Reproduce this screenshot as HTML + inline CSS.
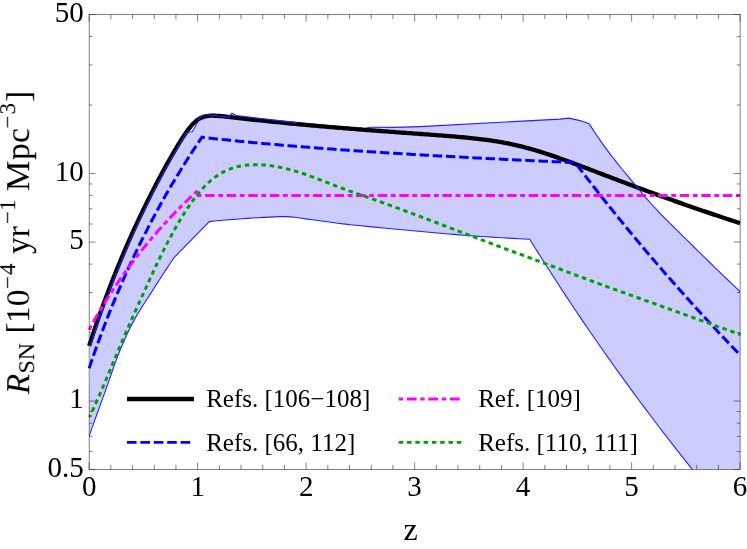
<!DOCTYPE html>
<html><head><meta charset="utf-8"><title>R_SN vs z</title>
<style>
html,body{margin:0;padding:0;background:#fff;}
svg{display:block;font-family:"Liberation Serif",serif;}
.tk{font-size:29px;fill:#000;}
.lg{font-size:25px;fill:#000;}
.ax{font-size:32px;fill:#000;}
</style></head><body>
<svg width="747" height="549" viewBox="0 0 747 549">
<rect width="747" height="549" fill="#fff"/>
<defs><filter id="nf" x="-5%" y="-5%" width="110%" height="110%"><feOffset dx="0" dy="0"/></filter><clipPath id="cp"><rect x="89.15" y="14.5" width="650.95" height="455.1"/></clipPath></defs>
<g clip-path="url(#cp)">
<path d="M90.15 346.25 L92.38 339.42 L94.60 332.74 L96.83 326.18 L99.05 319.75 L101.28 313.44 L103.50 307.25 L105.73 301.17 L107.95 295.19 L110.18 289.32 L112.40 283.55 L114.63 277.88 L116.86 272.31 L119.08 266.82 L121.31 261.42 L123.53 256.11 L125.76 250.88 L127.98 245.73 L130.21 240.66 L132.43 235.66 L134.66 230.74 L136.88 225.89 L139.11 221.10 L141.34 216.39 L143.56 211.74 L145.79 207.15 L148.01 202.63 L150.24 198.16 L152.46 193.76 L154.69 189.41 L156.91 185.11 L159.14 180.88 L161.37 176.69 L163.59 172.56 L165.82 168.49 L168.04 164.46 L170.27 160.49 L172.49 156.58 L174.72 152.73 L176.94 148.95 L186.90 132.10 L192.30 131.70 L201.20 115.70 L209.40 114.30 L210.10 115.00 L228.60 117.10 L232.00 113.30 L236.00 115.45 L242.79 116.31 L249.58 117.15 L256.37 117.98 L263.16 118.80 L269.95 119.59 L276.74 120.37 L283.53 121.14 L290.32 121.89 L297.11 122.63 L303.89 123.35 L310.68 124.06 L317.47 124.74 L324.26 125.33 L331.05 125.91 L337.84 126.48 L344.63 127.04 L351.42 127.58 L358.21 128.12 L365.00 128.65 L370.40 127.30 L395.00 127.40 L420.00 126.60 L560.00 119.10 L569.00 118.10 L580.00 120.60 L589.10 123.70 L592.98 129.65 L596.85 135.47 L600.73 141.15 L604.61 146.65 L608.48 151.93 L612.36 157.01 L616.24 161.95 L620.12 166.76 L623.99 171.48 L627.87 176.15 L631.75 180.79 L635.62 185.44 L639.50 190.12 L643.38 194.87 L647.25 199.45 L651.13 203.75 L655.01 207.93 L658.88 212.01 L662.76 216.01 L666.64 219.94 L670.52 223.82 L674.39 227.66 L678.27 231.47 L682.15 235.27 L686.02 239.08 L689.90 242.91 L693.78 246.76 L697.65 250.59 L701.53 254.41 L705.41 258.22 L709.28 262.01 L713.16 265.79 L717.04 269.55 L720.92 273.30 L724.79 277.03 L728.67 280.75 L732.55 284.45 L736.42 288.13 L740.30 291.80 L740.30 469.60 L692.50 469.60 L688.33 464.38 L684.15 459.13 L679.98 453.85 L675.80 448.54 L671.63 443.20 L667.45 437.82 L663.28 432.41 L659.11 426.97 L654.93 421.49 L650.76 415.98 L646.58 410.44 L642.41 404.86 L638.23 399.24 L634.06 393.59 L629.88 387.91 L625.71 382.18 L621.54 376.42 L617.36 370.63 L613.19 364.79 L609.01 358.92 L604.84 353.00 L600.66 347.05 L596.49 341.05 L592.32 335.02 L588.14 328.94 L583.97 322.83 L579.79 316.67 L575.62 310.46 L571.44 304.22 L567.27 297.92 L563.09 291.59 L558.92 285.21 L554.75 278.78 L550.57 272.30 L546.40 265.78 L542.22 259.21 L538.05 252.59 L533.87 245.92 L529.70 239.20 L524.27 238.95 L518.84 238.68 L513.41 238.41 L507.98 238.11 L502.56 237.81 L497.13 237.49 L491.70 237.16 L486.27 236.81 L480.84 236.46 L475.41 236.08 L469.98 235.69 L464.55 235.28 L459.13 234.85 L453.70 234.40 L448.27 233.94 L442.84 233.46 L437.41 232.98 L431.98 232.48 L426.55 231.98 L421.12 231.48 L415.69 230.97 L410.27 230.46 L404.84 229.95 L399.41 229.45 L393.98 228.94 L388.55 228.44 L383.12 227.93 L377.69 227.42 L372.26 226.89 L366.84 226.36 L361.41 225.82 L355.98 225.26 L350.55 224.68 L345.12 224.08 L339.69 223.46 L334.26 222.79 L328.83 222.06 L323.41 221.31 L317.98 220.55 L312.55 219.82 L307.12 219.11 L301.69 218.29 L296.26 217.49 L290.83 216.87 L285.40 216.60 L279.97 216.66 L274.55 216.85 L269.12 217.11 L263.69 217.41 L258.26 217.69 L252.83 218.01 L247.40 218.37 L241.97 218.77 L236.54 219.18 L231.12 219.61 L225.69 220.07 L220.26 220.55 L214.83 221.06 L209.40 221.60 L209.40 221.60 L174.30 257.30 L172.12 260.54 L169.93 263.81 L167.75 267.09 L165.56 270.40 L163.38 273.73 L161.19 277.09 L159.01 280.46 L156.82 283.85 L154.64 287.27 L152.45 290.70 L150.27 294.10 L148.08 297.46 L145.90 300.81 L143.72 304.19 L141.53 307.63 L139.35 311.17 L137.16 314.82 L134.98 318.63 L132.79 322.63 L130.61 326.85 L128.42 331.32 L126.24 336.02 L124.05 340.92 L121.87 346.00 L119.68 351.26 L117.50 356.82 L115.32 362.68 L113.13 368.76 L110.95 374.97 L108.76 381.24 L106.58 387.46 L104.39 393.57 L102.21 399.62 L100.02 405.67 L97.84 411.72 L95.65 417.78 L93.47 423.85 L91.28 429.92 L89.10 436.00 Z" fill="#ccccff" stroke="none"/>
<path d="M297.11 122.63 L303.89 123.35 L310.68 124.06 L317.47 124.74 L324.26 125.33 L331.05 125.91 L337.84 126.48 L344.63 127.04 L351.42 127.58 L358.21 128.12 L365.00 128.65 L370.40 127.30" fill="none" stroke="#2222ff" stroke-width="1.1"/>
</g>
<path d="M89.15 345.80 L91.32 339.14 L93.49 332.62 L95.66 326.22 L97.83 319.94 L100.00 313.77 L102.17 307.72 L104.34 301.77 L106.51 295.93 L108.68 290.18 L110.85 284.54 L113.02 278.98 L115.19 273.52 L117.36 268.14 L119.53 262.85 L121.70 257.64 L123.87 252.51 L126.04 247.46 L128.21 242.48 L130.38 237.58 L132.55 232.74 L134.72 227.98 L136.89 223.28 L139.06 218.64 L141.23 214.07 L143.40 209.56 L145.57 205.11 L147.74 200.72 L149.91 196.38 L152.08 192.10 L154.25 187.88 L156.41 183.71 L158.58 179.59 L160.75 175.52 L162.92 171.50 L165.09 167.53 L167.26 163.61 L169.43 159.75 L171.60 155.94 L173.77 152.19 L175.94 148.50 L178.11 144.88 L180.28 141.36 L182.45 137.94 L184.62 134.64 L186.79 131.51 L188.96 128.59 L191.13 125.91 L193.30 123.52 L195.47 121.46 L197.64 119.75 L199.81 118.39 L201.98 117.36 L204.15 116.63 L206.32 116.14 L208.49 115.85 L210.66 115.71 L212.83 115.68 L215.00 115.74 L217.17 115.85 L219.34 116.01 L221.51 116.20 L223.68 116.41 L225.85 116.63 L228.02 116.86 L230.19 117.10 L232.36 117.34 L234.53 117.58 L236.70 117.83 L238.87 118.07 L241.04 118.32 L243.21 118.56 L245.38 118.80 L247.55 119.04 L249.72 119.28 L251.89 119.52 L254.06 119.75 L256.23 119.99 L258.40 120.22 L260.57 120.45 L262.74 120.68 L264.91 120.91 L267.08 121.13 L269.25 121.35 L271.42 121.58 L273.59 121.80 L275.76 122.02 L277.93 122.23 L280.10 122.45 L282.27 122.66 L284.44 122.87 L286.60 123.09 L288.77 123.30 L290.94 123.50 L293.11 123.71 L295.28 123.92 L297.45 124.12 L299.62 124.32 L301.79 124.52 L303.96 124.72 L306.13 124.92 L308.30 125.12 L310.47 125.31 L312.64 125.51 L314.81 125.70 L316.98 125.89 L319.15 126.08 L321.32 126.27 L323.49 126.46 L325.66 126.65 L327.83 126.83 L330.00 127.02 L332.17 127.20 L334.34 127.39 L336.51 127.57 L338.68 127.75 L340.85 127.93 L343.02 128.10 L345.19 128.28 L347.36 128.46 L349.53 128.63 L351.70 128.81 L353.87 128.98 L356.04 129.15 L358.21 129.32 L360.38 129.49 L362.55 129.66 L364.72 129.83 L366.89 130.00 L369.06 130.17 L371.23 130.33 L373.40 130.50 L375.57 130.66 L377.74 130.83 L379.91 130.99 L382.08 131.15 L384.25 131.31 L386.42 131.47 L388.59 131.63 L390.76 131.79 L392.93 131.95 L395.10 132.11 L397.27 132.27 L399.44 132.43 L401.61 132.58 L403.78 132.74 L405.95 132.90 L408.12 133.05 L410.29 133.21 L412.46 133.37 L414.62 133.52 L416.79 133.68 L418.96 133.83 L421.13 133.99 L423.30 134.15 L425.47 134.31 L427.64 134.46 L429.81 134.62 L431.98 134.78 L434.15 134.94 L436.32 135.11 L438.49 135.27 L440.66 135.44 L442.83 135.60 L445.00 135.77 L447.17 135.94 L449.34 136.12 L451.51 136.30 L453.68 136.48 L455.85 136.66 L458.02 136.85 L460.19 137.04 L462.36 137.24 L464.53 137.45 L466.70 137.65 L468.87 137.87 L471.04 138.09 L473.21 138.32 L475.38 138.56 L477.55 138.80 L479.72 139.06 L481.89 139.32 L484.06 139.60 L486.23 139.88 L488.40 140.18 L490.57 140.49 L492.74 140.81 L494.91 141.14 L497.08 141.49 L499.25 141.85 L501.42 142.23 L503.59 142.62 L505.76 143.03 L507.93 143.46 L510.10 143.90 L512.27 144.36 L514.44 144.84 L516.61 145.33 L518.78 145.84 L520.95 146.37 L523.12 146.91 L525.29 147.48 L527.46 148.06 L529.63 148.65 L531.80 149.26 L533.97 149.89 L536.14 150.53 L538.31 151.18 L540.48 151.85 L542.65 152.54 L544.82 153.23 L546.98 153.94 L549.15 154.66 L551.32 155.39 L553.49 156.13 L555.66 156.88 L557.83 157.64 L560.00 158.41 L562.17 159.18 L564.34 159.96 L566.51 160.75 L568.68 161.54 L570.85 162.34 L573.02 163.14 L575.19 163.95 L577.36 164.76 L579.53 165.57 L581.70 166.39 L583.87 167.21 L586.04 168.03 L588.21 168.85 L590.38 169.67 L592.55 170.50 L594.72 171.32 L596.89 172.15 L599.06 172.97 L601.23 173.80 L603.40 174.63 L605.57 175.45 L607.74 176.28 L609.91 177.10 L612.08 177.93 L614.25 178.75 L616.42 179.57 L618.59 180.39 L620.76 181.21 L622.93 182.03 L625.10 182.85 L627.27 183.66 L629.44 184.47 L631.61 185.29 L633.78 186.10 L635.95 186.90 L638.12 187.71 L640.29 188.51 L642.46 189.32 L644.63 190.12 L646.80 190.91 L648.97 191.71 L651.14 192.50 L653.31 193.30 L655.48 194.09 L657.65 194.87 L659.82 195.66 L661.99 196.44 L664.16 197.22 L666.33 198.00 L668.50 198.78 L670.67 199.55 L672.84 200.33 L675.01 201.10 L677.17 201.87 L679.34 202.63 L681.51 203.39 L683.68 204.16 L685.85 204.92 L688.02 205.67 L690.19 206.43 L692.36 207.18 L694.53 207.93 L696.70 208.68 L698.87 209.42 L701.04 210.17 L703.21 210.91 L705.38 211.65 L707.55 212.39 L709.72 213.12 L711.89 213.86 L714.06 214.59 L716.23 215.32 L718.40 216.04 L720.57 216.77 L722.74 217.49 L724.91 218.21 L727.08 218.93 L729.25 219.65 L731.42 220.36 L733.59 221.07 L735.76 221.78 L737.93 222.49 L740.10 223.20" fill="none" stroke="#000" stroke-width="4.3" stroke-linejoin="round"/>
<g clip-path="url(#cp)">
<path d="M90.15 346.25 L92.38 339.42 L94.60 332.74 L96.83 326.18 L99.05 319.75 L101.28 313.44 L103.50 307.25 L105.73 301.17 L107.95 295.19 L110.18 289.32 L112.40 283.55 L114.63 277.88 L116.86 272.31 L119.08 266.82 L121.31 261.42 L123.53 256.11 L125.76 250.88 L127.98 245.73 L130.21 240.66 L132.43 235.66 L134.66 230.74 L136.88 225.89 L139.11 221.10 L141.34 216.39 L143.56 211.74 L145.79 207.15 L148.01 202.63 L150.24 198.16 L152.46 193.76 L154.69 189.41 L156.91 185.11 L159.14 180.88 L161.37 176.69 L163.59 172.56 L165.82 168.49 L168.04 164.46 L170.27 160.49 L172.49 156.58 L174.72 152.73 L176.94 148.95 L186.90 132.10 L192.30 131.70 L201.20 115.70 L209.40 114.30 L210.10 115.00 L228.60 117.10 L232.00 113.30 L236.00 115.45 L242.79 116.31 L249.58 117.15 L256.37 117.98 L263.16 118.80 L269.95 119.59 L276.74 120.37 L283.53 121.14 L290.32 121.89 L297.11 122.63 M370.40 127.30 L395.00 127.40 L420.00 126.60 L560.00 119.10 L569.00 118.10 L580.00 120.60 L589.10 123.70 L592.98 129.65 L596.85 135.47 L600.73 141.15 L604.61 146.65 L608.48 151.93 L612.36 157.01 L616.24 161.95 L620.12 166.76 L623.99 171.48 L627.87 176.15 L631.75 180.79 L635.62 185.44 L639.50 190.12 L643.38 194.87 L647.25 199.45 L651.13 203.75 L655.01 207.93 L658.88 212.01 L662.76 216.01 L666.64 219.94 L670.52 223.82 L674.39 227.66 L678.27 231.47 L682.15 235.27 L686.02 239.08 L689.90 242.91 L693.78 246.76 L697.65 250.59 L701.53 254.41 L705.41 258.22 L709.28 262.01 L713.16 265.79 L717.04 269.55 L720.92 273.30 L724.79 277.03 L728.67 280.75 L732.55 284.45 L736.42 288.13 L740.30 291.80" fill="none" stroke="#2222ff" stroke-width="1.1"/>
<path d="M89.10 436.00 L91.28 429.92 L93.47 423.85 L95.65 417.78 L97.84 411.72 L100.02 405.67 L102.21 399.62 L104.39 393.57 L106.58 387.46 L108.76 381.24 L110.95 374.97 L113.13 368.76 L115.32 362.68 L117.50 356.82 L119.68 351.26 L121.87 346.00 L124.05 340.92 L126.24 336.02 L128.42 331.32 L130.61 326.85 L132.79 322.63 L134.98 318.63 L137.16 314.82 L139.35 311.17 L141.53 307.63 L143.72 304.19 L145.90 300.81 L148.08 297.46 L150.27 294.10 L152.45 290.70 L154.64 287.27 L156.82 283.85 L159.01 280.46 L161.19 277.09 L163.38 273.73 L165.56 270.40 L167.75 267.09 L169.93 263.81 L172.12 260.54 L174.30 257.30 L209.40 221.60 L209.40 221.60 L214.83 221.06 L220.26 220.55 L225.69 220.07 L231.12 219.61 L236.54 219.18 L241.97 218.77 L247.40 218.37 L252.83 218.01 L258.26 217.69 L263.69 217.41 L269.12 217.11 L274.55 216.85 L279.97 216.66 L285.40 216.60 L290.83 216.87 L296.26 217.49 L301.69 218.29 L307.12 219.11 L312.55 219.82 L317.98 220.55 L323.41 221.31 L328.83 222.06 L334.26 222.79 L339.69 223.46 L345.12 224.08 L350.55 224.68 L355.98 225.26 L361.41 225.82 L366.84 226.36 L372.26 226.89 L377.69 227.42 L383.12 227.93 L388.55 228.44 L393.98 228.94 L399.41 229.45 L404.84 229.95 L410.27 230.46 L415.69 230.97 L421.12 231.48 L426.55 231.98 L431.98 232.48 L437.41 232.98 L442.84 233.46 L448.27 233.94 L453.70 234.40 L459.13 234.85 L464.55 235.28 L469.98 235.69 L475.41 236.08 L480.84 236.46 L486.27 236.81 L491.70 237.16 L497.13 237.49 L502.56 237.81 L507.98 238.11 L513.41 238.41 L518.84 238.68 L524.27 238.95 L529.70 239.20 L533.87 245.92 L538.05 252.59 L542.22 259.21 L546.40 265.78 L550.57 272.30 L554.75 278.78 L558.92 285.21 L563.09 291.59 L567.27 297.92 L571.44 304.22 L575.62 310.46 L579.79 316.67 L583.97 322.83 L588.14 328.94 L592.32 335.02 L596.49 341.05 L600.66 347.05 L604.84 353.00 L609.01 358.92 L613.19 364.79 L617.36 370.63 L621.54 376.42 L625.71 382.18 L629.88 387.91 L634.06 393.59 L638.23 399.24 L642.41 404.86 L646.58 410.44 L650.76 415.98 L654.93 421.49 L659.11 426.97 L663.28 432.41 L667.45 437.82 L671.63 443.20 L675.80 448.54 L679.98 453.85 L684.15 459.13 L688.33 464.38 L692.50 469.60" fill="none" stroke="#2222ff" stroke-width="1.1"/>
</g>
<path d="M89.15 368.31 L91.32 361.89 L93.49 355.60 L95.66 349.42 L97.83 343.36 L100.00 337.42 L102.17 331.57 L104.34 325.84 L106.51 320.20 L108.68 314.66 L110.85 309.21 L113.02 303.85 L115.19 298.58 L117.36 293.40 L119.53 288.29 L121.70 283.27 L123.87 278.32 L126.04 273.44 L128.21 268.64 L130.38 263.91 L132.55 259.24 L134.72 254.65 L136.89 250.11 L139.06 245.64 L141.23 241.23 L143.40 236.88 L145.57 232.59 L147.74 228.35 L149.91 224.17 L152.08 220.04 L154.25 215.96 L156.41 211.93 L158.58 207.96 L160.75 204.03 L162.92 200.15 L165.09 196.31 L167.26 192.52 L169.43 188.77 L171.60 185.07 L173.77 181.40 L175.94 177.78 L178.11 174.20 L180.28 170.66 L182.45 167.15 L184.62 163.69 L186.79 160.26 L188.96 156.86 L191.13 153.50 L193.30 150.18 L195.47 146.89 L197.64 143.63 L199.81 140.41 L201.98 137.21 L204.15 137.46 L206.32 137.71 L208.49 137.96 L210.66 138.20 L212.83 138.44 L215.00 138.68 L217.17 138.92 L219.34 139.15 L221.51 139.38 L223.68 139.62 L225.85 139.84 L228.02 140.07 L230.19 140.29 L232.36 140.52 L234.53 140.74 L236.70 140.96 L238.87 141.17 L241.04 141.39 L243.21 141.60 L245.38 141.81 L247.55 142.02 L249.72 142.23 L251.89 142.44 L254.06 142.64 L256.23 142.84 L258.40 143.05 L260.57 143.25 L262.74 143.44 L264.91 143.64 L267.08 143.84 L269.25 144.03 L271.42 144.22 L273.59 144.41 L275.76 144.60 L277.93 144.79 L280.10 144.98 L282.27 145.16 L284.44 145.35 L286.60 145.53 L288.77 145.71 L290.94 145.89 L293.11 146.07 L295.28 146.25 L297.45 146.43 L299.62 146.60 L301.79 146.78 L303.96 146.95 L306.13 147.12 L308.30 147.29 L310.47 147.46 L312.64 147.63 L314.81 147.80 L316.98 147.96 L319.15 148.13 L321.32 148.29 L323.49 148.46 L325.66 148.62 L327.83 148.78 L330.00 148.94 L332.17 149.10 L334.34 149.26 L336.51 149.41 L338.68 149.57 L340.85 149.73 L343.02 149.88 L345.19 150.03 L347.36 150.19 L349.53 150.34 L351.70 150.49 L353.87 150.64 L356.04 150.79 L358.21 150.94 L360.38 151.08 L362.55 151.23 L364.72 151.37 L366.89 151.52 L369.06 151.66 L371.23 151.81 L373.40 151.95 L375.57 152.09 L377.74 152.23 L379.91 152.37 L382.08 152.51 L384.25 152.65 L386.42 152.79 L388.59 152.92 L390.76 153.06 L392.93 153.20 L395.10 153.33 L397.27 153.46 L399.44 153.60 L401.61 153.73 L403.78 153.86 L405.95 153.99 L408.12 154.12 L410.29 154.26 L412.46 154.38 L414.62 154.51 L416.79 154.64 L418.96 154.77 L421.13 154.90 L423.30 155.02 L425.47 155.15 L427.64 155.27 L429.81 155.40 L431.98 155.52 L434.15 155.64 L436.32 155.77 L438.49 155.89 L440.66 156.01 L442.83 156.13 L445.00 156.25 L447.17 156.37 L449.34 156.49 L451.51 156.61 L453.68 156.73 L455.85 156.85 L458.02 156.96 L460.19 157.08 L462.36 157.19 L464.53 157.31 L466.70 157.43 L468.87 157.54 L471.04 157.65 L473.21 157.77 L475.38 157.88 L477.55 157.99 L479.72 158.10 L481.89 158.22 L484.06 158.33 L486.23 158.44 L488.40 158.55 L490.57 158.66 L492.74 158.77 L494.91 158.87 L497.08 158.98 L499.25 159.09 L501.42 159.20 L503.59 159.30 L505.76 159.41 L507.93 159.52 L510.10 159.62 L512.27 159.73 L514.44 159.83 L516.61 159.94 L518.78 160.04 L520.95 160.14 L523.12 160.25 L525.29 160.35 L527.46 160.45 L529.63 160.55 L531.80 160.65 L533.97 160.76 L536.14 160.86 L538.31 160.96 L540.48 161.06 L542.65 161.16 L544.82 161.25 L546.98 161.35 L549.15 161.45 L551.32 161.55 L553.49 161.65 L555.66 161.74 L557.83 161.84 L560.00 161.94 L562.17 162.03 L564.34 162.13 L566.51 162.22 L568.68 162.32 L570.85 162.41 L573.02 162.51 L575.19 162.60 L577.36 165.46 L579.53 168.32 L581.70 171.16 L583.87 173.99 L586.04 176.81 L588.21 179.62 L590.38 182.42 L592.55 185.21 L594.72 187.99 L596.89 190.76 L599.06 193.53 L601.23 196.28 L603.40 199.02 L605.57 201.75 L607.74 204.48 L609.91 207.19 L612.08 209.89 L614.25 212.59 L616.42 215.28 L618.59 217.95 L620.76 220.62 L622.93 223.28 L625.10 225.93 L627.27 228.57 L629.44 231.20 L631.61 233.82 L633.78 236.44 L635.95 239.04 L638.12 241.64 L640.29 244.23 L642.46 246.81 L644.63 249.38 L646.80 251.95 L648.97 254.50 L651.14 257.05 L653.31 259.59 L655.48 262.12 L657.65 264.64 L659.82 267.15 L661.99 269.66 L664.16 272.16 L666.33 274.65 L668.50 277.13 L670.67 279.60 L672.84 282.07 L675.01 284.53 L677.17 286.98 L679.34 289.42 L681.51 291.86 L683.68 294.29 L685.85 296.71 L688.02 299.12 L690.19 301.53 L692.36 303.93 L694.53 306.32 L696.70 308.70 L698.87 311.08 L701.04 313.45 L703.21 315.81 L705.38 318.17 L707.55 320.52 L709.72 322.86 L711.89 325.20 L714.06 327.52 L716.23 329.84 L718.40 332.16 L720.57 334.47 L722.74 336.77 L724.91 339.06 L727.08 341.35 L729.25 343.63 L731.42 345.90 L733.59 348.17 L735.76 350.43 L737.93 352.68 L740.10 354.93" fill="none" stroke="#0000ff" stroke-width="3" stroke-dasharray="9.5 3.73" stroke-linejoin="miter"/>
<path d="M89.15 329.68 L90.95 326.37 L92.76 323.11 L94.56 319.91 L96.37 316.75 L98.17 313.65 L99.98 310.59 L101.78 307.57 L103.59 304.61 L105.39 301.68 L107.20 298.80 L109.00 295.96 L110.80 293.15 L112.61 290.39 L114.41 287.66 L116.22 284.97 L118.02 282.32 L119.83 279.70 L121.63 277.11 L123.44 274.56 L125.24 272.04 L127.05 269.55 L128.85 267.09 L130.66 264.66 L132.46 262.26 L134.26 259.89 L136.07 257.55 L137.87 255.23 L139.68 252.94 L141.48 250.67 L143.29 248.43 L145.09 246.22 L146.90 244.03 L148.70 241.86 L150.51 239.72 L152.31 237.59 L154.11 235.50 L155.92 233.42 L157.72 231.36 L159.53 229.33 L161.33 227.31 L163.14 225.32 L164.94 223.34 L166.75 221.39 L168.55 219.45 L170.36 217.53 L172.16 215.63 L173.97 213.75 L175.77 211.88 L177.57 210.04 L179.38 208.20 L181.18 206.39 L182.99 204.59 L184.79 202.81 L186.60 201.04 L188.40 199.29 L190.21 197.56 L192.01 195.84 L193.82 194.13 L195.62 192.44 L197.42 190.76" fill="none" stroke="#ff00ff" stroke-width="3" stroke-dasharray="4.85 3.62 9.5 3.603"/>
<path d="M196.50 195.60 L740.10 195.60" fill="none" stroke="#ff00ff" stroke-width="3" stroke-dasharray="4.85 3.62 9.5 3.603" stroke-dashoffset="-0.13"/>
<path d="M89.50 417.10 L91.67 412.46 L93.84 407.72 L96.01 402.89 L98.18 397.98 L100.35 393.00 L102.52 387.95 L104.69 382.86 L106.86 377.73 L109.03 372.57 L111.20 367.39 L113.37 362.20 L115.54 357.01 L117.71 351.83 L119.88 346.68 L122.05 341.56 L124.22 336.49 L126.39 331.46 L128.56 326.48 L130.73 321.55 L132.90 316.65 L135.07 311.78 L137.24 306.94 L139.41 302.12 L141.58 297.32 L143.75 292.53 L145.92 287.75 L148.09 282.98 L150.26 278.23 L152.43 273.52 L154.60 268.85 L156.77 264.25 L158.94 259.71 L161.11 255.25 L163.28 250.88 L165.45 246.60 L167.62 242.40 L169.79 238.28 L171.96 234.26 L174.13 230.32 L176.30 226.48 L178.47 222.73 L180.64 219.08 L182.81 215.54 L184.98 212.09 L187.15 208.76 L189.32 205.55 L191.49 202.45 L193.66 199.46 L195.83 196.61 L198.00 193.88 L200.17 191.28 L202.34 188.82 L204.51 186.49 L206.68 184.29 L208.85 182.24 L211.02 180.32 L213.19 178.55 L215.36 176.91 L217.53 175.40 L219.70 174.02 L221.87 172.76 L224.04 171.61 L226.21 170.57 L228.38 169.64 L230.55 168.80 L232.72 168.05 L234.89 167.39 L237.06 166.81 L239.23 166.31 L241.40 165.88 L243.57 165.53 L245.74 165.25 L247.91 165.02 L250.08 164.86 L252.25 164.76 L254.42 164.70 L256.59 164.69 L258.76 164.73 L260.93 164.82 L263.10 164.95 L265.27 165.12 L267.44 165.33 L269.61 165.58 L271.78 165.87 L273.95 166.20 L276.12 166.56 L278.29 166.96 L280.46 167.39 L282.63 167.86 L284.80 168.35 L286.97 168.88 L289.14 169.43 L291.31 170.01 L293.48 170.62 L295.65 171.25 L297.82 171.91 L299.99 172.59 L302.16 173.29 L304.33 174.02 L306.50 174.76 L308.67 175.52 L310.84 176.30 L313.01 177.10 L315.18 177.91 L317.35 178.74 L319.52 179.57 L321.69 180.41 L323.86 181.26 L326.03 182.11 L328.20 182.96 L330.37 183.81 L332.54 184.65 L334.71 185.49 L336.88 186.32 L339.05 187.14 L341.22 187.95 L343.39 188.75 L345.56 189.53 L347.73 190.31 L349.90 191.08 L352.07 191.84 L354.24 192.60 L356.41 193.35 L358.58 194.11 L360.75 194.86 L362.92 195.62 L365.09 196.38 L367.26 197.14 L369.43 197.90 L371.60 198.67 L373.77 199.45 L375.94 200.22 L378.11 201.00 L380.28 201.78 L382.45 202.56 L384.62 203.35 L386.79 204.14 L388.96 204.93 L391.13 205.72 L393.30 206.51 L395.47 207.31 L397.64 208.11 L399.81 208.91 L401.98 209.72 L404.15 210.52 L406.32 211.33 L408.49 212.14 L410.66 212.95 L412.83 213.76 L415.00 214.57 L417.17 215.39 L419.34 216.20 L421.51 217.02 L423.68 217.84 L425.85 218.66 L428.02 219.48 L430.19 220.30 L432.36 221.12 L434.53 221.94 L436.70 222.77 L438.87 223.59 L441.04 224.42 L443.21 225.24 L445.38 226.07 L447.55 226.89 L449.72 227.72 L451.89 228.55 L454.06 229.37 L456.23 230.20 L458.40 231.03 L460.57 231.86 L462.74 232.68 L464.91 233.51 L467.08 234.34 L469.25 235.17 L471.42 235.99 L473.59 236.82 L475.76 237.65 L477.93 238.47 L480.10 239.30 L482.27 240.12 L484.44 240.94 L486.61 241.76 L488.78 242.58 L490.95 243.40 L493.12 244.22 L495.29 245.04 L497.46 245.85 L499.63 246.66 L501.80 247.47 L503.97 248.28 L506.14 249.09 L508.31 249.89 L510.48 250.69 L512.65 251.49 L514.82 252.30 L516.99 253.10 L519.16 253.90 L521.33 254.70 L523.50 255.50 L525.67 256.30 L527.84 257.10 L530.01 257.90 L532.18 258.70 L534.35 259.50 L536.52 260.30 L538.69 261.11 L540.86 261.92 L543.03 262.73 L545.20 263.54 L547.37 264.35 L549.54 265.16 L551.71 265.98 L553.88 266.80 L556.05 267.62 L558.22 268.44 L560.39 269.26 L562.56 270.08 L564.73 270.90 L566.90 271.72 L569.07 272.54 L571.24 273.36 L573.41 274.18 L575.58 275.00 L577.75 275.82 L579.92 276.63 L582.09 277.45 L584.26 278.26 L586.43 279.07 L588.60 279.88 L590.77 280.69 L592.94 281.49 L595.11 282.29 L597.28 283.09 L599.45 283.88 L601.62 284.67 L603.79 285.47 L605.96 286.26 L608.13 287.04 L610.30 287.83 L612.47 288.61 L614.64 289.40 L616.81 290.18 L618.98 290.96 L621.15 291.74 L623.32 292.52 L625.49 293.30 L627.66 294.08 L629.83 294.85 L632.00 295.63 L634.17 296.41 L636.34 297.19 L638.51 297.97 L640.68 298.74 L642.85 299.52 L645.02 300.30 L647.19 301.08 L649.36 301.86 L651.53 302.64 L653.70 303.42 L655.87 304.20 L658.04 304.98 L660.21 305.76 L662.38 306.55 L664.55 307.33 L666.72 308.11 L668.89 308.89 L671.06 309.67 L673.23 310.46 L675.40 311.24 L677.57 312.02 L679.74 312.80 L681.91 313.58 L684.08 314.37 L686.25 315.15 L688.42 315.93 L690.59 316.71 L692.76 317.49 L694.93 318.28 L697.10 319.06 L699.27 319.84 L701.44 320.62 L703.61 321.40 L705.78 322.18 L707.95 322.96 L710.12 323.74 L712.29 324.52 L714.46 325.30 L716.63 326.07 L718.80 326.85 L720.97 327.63 L723.14 328.41 L725.31 329.18 L727.48 329.96 L729.65 330.73 L731.82 331.51 L733.99 332.28 L736.16 333.06 L738.33 333.83 L740.50 334.60" fill="none" stroke="#00a000" stroke-width="3" stroke-dasharray="4.5 3.8" stroke-dashoffset="2"/>
<rect x="89.15" y="14.5" width="650.95" height="455.1" fill="none" stroke="#333" stroke-width="0.62"/>
<path d="M89.15 469.60 v-7.20 M89.15 14.50 v7.20 M110.85 469.60 v-4.70 M110.85 14.50 v4.70 M132.55 469.60 v-4.70 M132.55 14.50 v4.70 M154.25 469.60 v-4.70 M154.25 14.50 v4.70 M175.94 469.60 v-4.70 M175.94 14.50 v4.70 M197.64 469.60 v-7.20 M197.64 14.50 v7.20 M219.34 469.60 v-4.70 M219.34 14.50 v4.70 M241.04 469.60 v-4.70 M241.04 14.50 v4.70 M262.74 469.60 v-4.70 M262.74 14.50 v4.70 M284.44 469.60 v-4.70 M284.44 14.50 v4.70 M306.13 469.60 v-7.20 M306.13 14.50 v7.20 M327.83 469.60 v-4.70 M327.83 14.50 v4.70 M349.53 469.60 v-4.70 M349.53 14.50 v4.70 M371.23 469.60 v-4.70 M371.23 14.50 v4.70 M392.93 469.60 v-4.70 M392.93 14.50 v4.70 M414.62 469.60 v-7.20 M414.62 14.50 v7.20 M436.32 469.60 v-4.70 M436.32 14.50 v4.70 M458.02 469.60 v-4.70 M458.02 14.50 v4.70 M479.72 469.60 v-4.70 M479.72 14.50 v4.70 M501.42 469.60 v-4.70 M501.42 14.50 v4.70 M523.12 469.60 v-7.20 M523.12 14.50 v7.20 M544.82 469.60 v-4.70 M544.82 14.50 v4.70 M566.51 469.60 v-4.70 M566.51 14.50 v4.70 M588.21 469.60 v-4.70 M588.21 14.50 v4.70 M609.91 469.60 v-4.70 M609.91 14.50 v4.70 M631.61 469.60 v-7.20 M631.61 14.50 v7.20 M653.31 469.60 v-4.70 M653.31 14.50 v4.70 M675.01 469.60 v-4.70 M675.01 14.50 v4.70 M696.70 469.60 v-4.70 M696.70 14.50 v4.70 M718.40 469.60 v-4.70 M718.40 14.50 v4.70 M740.10 469.60 v-7.20 M740.10 14.50 v7.20 M89.15 469.60 h6.40 M740.10 469.60 h-6.40 M89.15 451.58 h3.30 M740.10 451.58 h-3.30 M89.15 436.35 h3.30 M740.10 436.35 h-3.30 M89.15 423.15 h3.30 M740.10 423.15 h-3.30 M89.15 411.51 h3.30 M740.10 411.51 h-3.30 M89.15 401.10 h6.40 M740.10 401.10 h-6.40 M89.15 332.60 h3.30 M740.10 332.60 h-3.30 M89.15 292.53 h3.30 M740.10 292.53 h-3.30 M89.15 264.10 h3.30 M740.10 264.10 h-3.30 M89.15 242.05 h6.40 M740.10 242.05 h-6.40 M89.15 224.03 h3.30 M740.10 224.03 h-3.30 M89.15 208.80 h3.30 M740.10 208.80 h-3.30 M89.15 195.60 h3.30 M740.10 195.60 h-3.30 M89.15 183.96 h3.30 M740.10 183.96 h-3.30 M89.15 173.55 h6.40 M740.10 173.55 h-6.40 M89.15 105.05 h3.30 M740.10 105.05 h-3.30 M89.15 64.98 h3.30 M740.10 64.98 h-3.30 M89.15 36.55 h3.30 M740.10 36.55 h-3.30 M89.15 14.50 h6.40 M740.10 14.50 h-6.40" fill="none" stroke="#333" stroke-width="0.62"/>
<g class="tk" filter="url(#nf)"><text x="89.15" y="495.8" text-anchor="middle">0</text><text x="197.64" y="495.8" text-anchor="middle">1</text><text x="306.13" y="495.8" text-anchor="middle">2</text><text x="414.62" y="495.8" text-anchor="middle">3</text><text x="523.12" y="495.8" text-anchor="middle">4</text><text x="631.61" y="495.8" text-anchor="middle">5</text><text x="740.10" y="495.8" text-anchor="middle">6</text><text x="83.7" y="21.50" text-anchor="end">50</text><text x="83.7" y="180.55" text-anchor="end">10</text><text x="83.7" y="249.05" text-anchor="end">5</text><text x="83.7" y="408.10" text-anchor="end">1</text><text x="83.7" y="476.60" text-anchor="end">0.5</text></g>
<!-- legend -->
<path d="M127 399 H194" stroke="#000" stroke-width="4.3"/>
<path d="M127 442.4 H194" stroke="#0000ff" stroke-width="2.8" stroke-dasharray="9.6 3.8"/>
<path d="M398.7 399 H460" stroke="#ff00ff" stroke-width="2.8" stroke-dasharray="4.4 3.7 9.8 3.7"/>
<path d="M398.7 442.4 H461.5" stroke="#00a000" stroke-width="2.8" stroke-dasharray="4.5 3.8"/>
<g class="lg" filter="url(#nf)">
<text x="206.2" y="407.4">Refs. [106−108]</text>
<text x="206.2" y="450.7">Refs. [66, 112]</text>
<text x="478.2" y="407.4">Ref. [109]</text>
<text x="478.2" y="450.7">Refs. [110, 111]</text>
</g>
<text class="ax" x="410.7" y="540" text-anchor="middle" filter="url(#nf)">z</text>
<g filter="url(#nf)" transform="translate(29.20 395.00) rotate(-90)"><text x="0.80" y="0.00" font-size="33.5px" font-style="italic" fill="#000">R</text><text x="21.50" y="4.60" font-size="24px" fill="#000">SN</text><text x="61.50" y="0.00" font-size="33.5px" fill="#000">[</text><text x="72.00" y="0.00" font-size="33.5px" fill="#000">10</text><text x="106.00" y="-13.60" font-size="23px" fill="#000">−</text><text x="120.00" y="-13.60" font-size="23px" fill="#000">4</text><text x="141.00" y="0.00" font-size="33.5px" fill="#000">yr</text><text x="171.00" y="-13.60" font-size="23px" fill="#000">−</text><text x="184.00" y="-13.60" font-size="23px" fill="#000">1</text><text x="203.70" y="0.00" font-size="34.5px" fill="#000">M</text><text x="235.00" y="0.00" font-size="33.5px" fill="#000">p</text><text x="252.00" y="0.00" font-size="33.5px" fill="#000">c</text><text x="266.50" y="-13.60" font-size="23px" fill="#000">−</text><text x="280.50" y="-13.60" font-size="23px" fill="#000">3</text><text x="293.00" y="0.00" font-size="33.5px" fill="#000">]</text></g>
</svg>
</body></html>
